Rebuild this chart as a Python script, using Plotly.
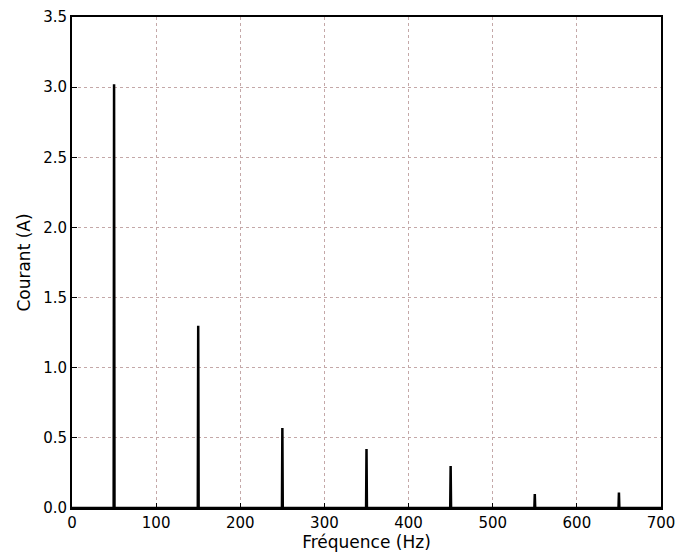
import plotly.graph_objects as go

# Harmonic frequencies (Hz) and current amplitudes (A)
freqs = [50, 150, 250, 350, 450, 550, 650]
amps = [3.02, 1.30, 0.57, 0.42, 0.30, 0.10, 0.11]

x_ticks = [0, 100, 200, 300, 400, 500, 600, 700]
y_ticks = [0.0, 0.5, 1.0, 1.5, 2.0, 2.5, 3.0, 3.5]

# Build spectrum line: baseline with narrow spikes at each harmonic
half_w = 0.5
xs, ys = [0], [0]
for f, a in zip(freqs, amps):
    xs += [f - half_w, f, f + half_w]
    ys += [0, a, 0]
xs.append(700)
ys.append(0)

fig = go.Figure()
fig.add_trace(go.Scatter(x=xs, y=ys, mode="lines",
                         line=dict(color="black", width=2.5),
                         hoverinfo="skip", showlegend=False))

font = "DejaVu Sans, Verdana, sans-serif"
fig.update_layout(
    width=678, height=560,
    margin=dict(l=72, r=17, t=17, b=52),
    paper_bgcolor="white", plot_bgcolor="white",
    font=dict(family=font, color="black", size=15),
    xaxis=dict(range=[0, 700], tickvals=x_ticks, ticktext=[str(v) for v in x_ticks],
               automargin=False, ticklabeloverflow="allow",
               showgrid=True, gridcolor="#c4a8a8", griddash="dot", gridwidth=1,
               showline=True, linecolor="black", linewidth=1.8, mirror=True,
               ticks="inside", ticklen=5, tickcolor="black",
               zeroline=False, title=dict(text="Fréquence (Hz)", font=dict(size=17), standoff=4),
               tickfont=dict(size=15)),
    yaxis=dict(range=[0, 3.5], tickvals=y_ticks, ticktext=[f"{v:.1f}" for v in y_ticks],
               automargin=False, ticklabeloverflow="allow",
               showgrid=True, gridcolor="#c4a8a8", griddash="dot", gridwidth=1,
               showline=True, linecolor="black", linewidth=1.8, mirror=True,
               ticks="inside", ticklen=5, tickcolor="black",
               zeroline=False, title=dict(text="Courant (A)", font=dict(size=17), standoff=8),
               tickfont=dict(size=15)),
)

fig.write_html("out.html")
